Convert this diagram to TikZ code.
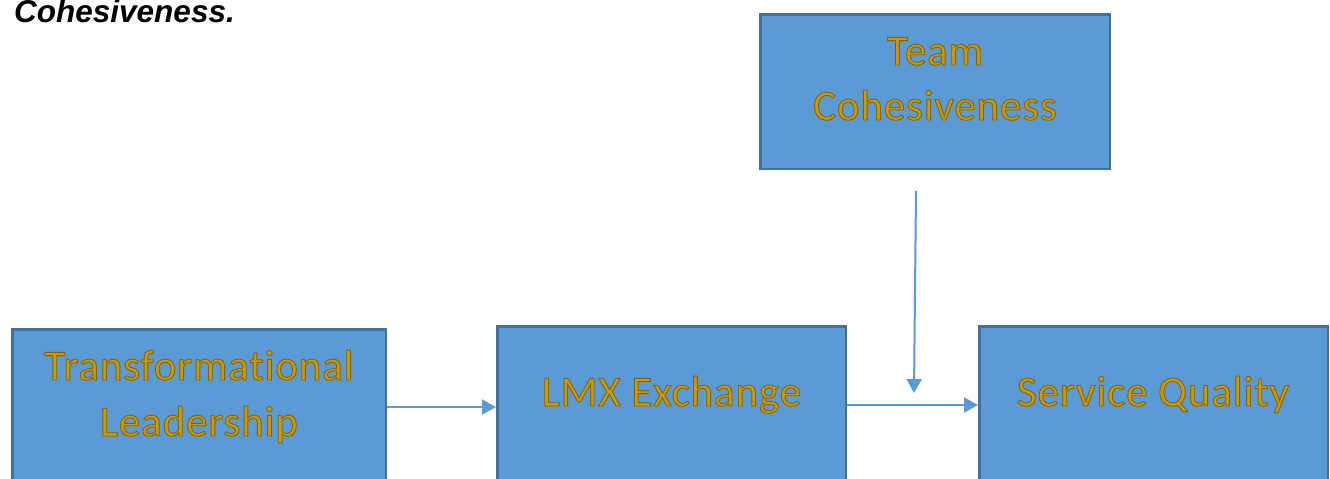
\documentclass[tikz,border=0pt]{standalone}
\usepackage{fontspec}
\setmainfont{Liberation Sans}
\newfontfamily\calib[Ligatures=NoCommon,LetterSpace=2]{Carlito}
\usetikzlibrary{arrows.meta}
\definecolor{boxfill}{HTML}{5B9BD5}
\definecolor{boxline}{HTML}{41719C}
\definecolor{goldtext}{RGB}{205,155,0}
\newcommand\goldtxt[1]{\special{pdf:literal direct 2 Tr 0.9 w 0.52 0.39 0 RG}#1\special{pdf:literal direct 0 Tr}}
\begin{document}
\begin{tikzpicture}[x=1pt,y=-1pt,
  box/.style={draw=boxline, fill=boxfill, line width=2.5pt, rectangle, inner sep=0pt, anchor=north west},
  lbl/.style={font=\calib\fontsize{43}{52}\selectfont, text=goldtext, anchor=base, inner sep=0pt},
  arr/.style={draw=boxfill, line width=2pt, -{Triangle[length=14pt,width=15pt]}}]
\useasboundingbox (0,0) rectangle (1330,479);
\clip (0,0) rectangle (1330,479);
\node[font=\bfseries\itshape\fontsize{31.5}{36}\selectfont, anchor=base west, inner sep=0pt] (title) at (14,23) {Cohesiveness.};
\node[box, minimum width=349.5pt, minimum height=154.5pt] (team) at (759,13) {};
\node[box, minimum width=373.5pt, minimum height=200pt] (tl) at (11,328) {};
\node[box, minimum width=348.5pt, minimum height=200pt] (lmx) at (496,325) {};
\node[box, minimum width=348.5pt, minimum height=200pt] (sq) at (978,325) {};
\node[lbl] (t1) at (935,65) {\goldtxt{Team}};
\node[lbl] (t2) at (935,120) {\goldtxt{Cohesiveness}};
\node[lbl] (l1) at (199,380) {\goldtxt{Transformational}};
\node[lbl] (l2) at (199,436) {\goldtxt{Leadership}};
\node[lbl] (m1) at (671.5,406) {\goldtxt{LMX Exchange}};
\node[lbl] (s1) at (1153,406) {\goldtxt{Service Quality}};
\coordinate (mod) at (914,393);
\draw[arr] (tl.east |- 0,407) -- (lmx.west |- 0,407);
\draw[arr] (lmx.east |- 0,405) -- (sq.west |- 0,405);
\draw[arr] (team.south -| 916,0) ++(0,21) -- (mod);
\end{tikzpicture}
\end{document}
